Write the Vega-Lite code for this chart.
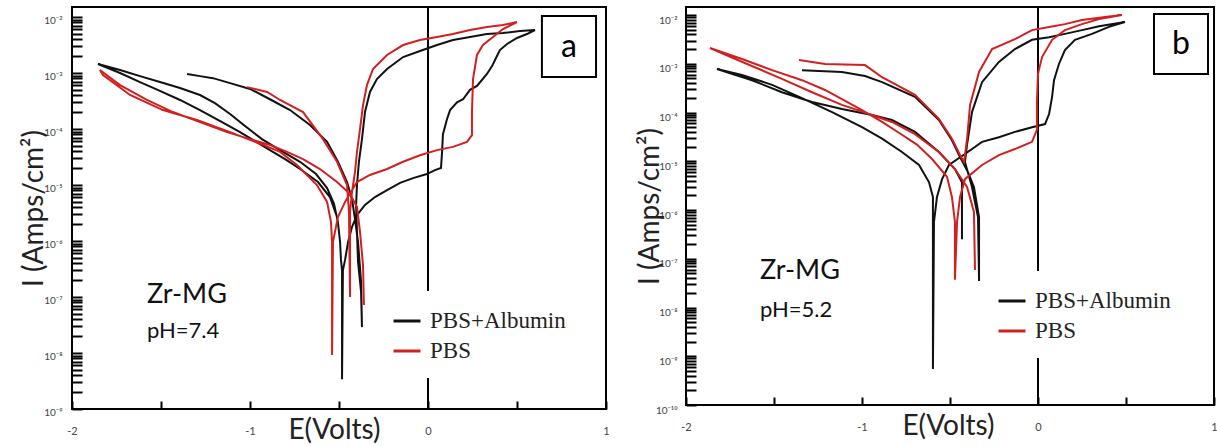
{
  "$schema": "https://vega.github.io/schema/vega-lite/v6.json",
  "background": "white",
  "padding": {"left": 19, "top": 5, "right": 0, "bottom": 0},
  "config": {
    "view": {"stroke": "black", "strokeWidth": 2},
    "font": "Lato",
    "axis": {
      "grid": false,
      "domain": false,
      "ticks": true,
      "tickColor": "black",
      "tickWidth": 2,
      "tickOpacity": 1,
      "zindex": 2,
      "labelFont": "Lato",
      "labelColor": "#444",
      "labelFlush": false,
      "titleFont": "Lato",
      "titleFontWeight": "normal",
      "titleColor": "#222",
      "titleFontSize": 28
    },
    "legend": {
      "labelFont": "Liberation Serif",
      "labelFontSize": 23,
      "labelColor": "#222",
      "symbolType": "stroke",
      "symbolSize": 729,
      "symbolStrokeWidth": 3,
      "labelOffset": 8,
      "rowPadding": 3,
      "padding": 15,
      "fillColor": "white"
    }
  },
  "datasets": {
    "a": [
      {"s":"PBS+Albumin","i":1,"E":-0.511,"I":2.68e-6},
      {"s":"PBS+Albumin","i":2,"E":-0.551,"I":6.1e-6},
      {"s":"PBS+Albumin","i":3,"E":-0.618,"I":1.13e-5},
      {"s":"PBS+Albumin","i":4,"E":-0.719,"I":1.93e-5},
      {"s":"PBS+Albumin","i":5,"E":-0.803,"I":2.9e-5},
      {"s":"PBS+Albumin","i":6,"E":-0.888,"I":4.2e-5},
      {"s":"PBS+Albumin","i":7,"E":-0.972,"I":6.1e-5},
      {"s":"PBS+Albumin","i":8,"E":-1.056,"I":8.8e-5},
      {"s":"PBS+Albumin","i":9,"E":-1.157,"I":1.33e-4},
      {"s":"PBS+Albumin","i":10,"E":-1.281,"I":2.18e-4},
      {"s":"PBS+Albumin","i":11,"E":-1.393,"I":3.3e-4},
      {"s":"PBS+Albumin","i":12,"E":-1.506,"I":4.8e-4},
      {"s":"PBS+Albumin","i":13,"E":-1.618,"I":6.9e-4},
      {"s":"PBS+Albumin","i":14,"E":-1.73,"I":1.0e-3},
      {"s":"PBS+Albumin","i":15,"E":-1.854,"I":1.45e-3},
      {"s":"PBS+Albumin","i":16,"E":-1.73,"I":1.13e-3},
      {"s":"PBS+Albumin","i":17,"E":-1.618,"I":8.8e-4},
      {"s":"PBS+Albumin","i":18,"E":-1.506,"I":6.9e-4},
      {"s":"PBS+Albumin","i":19,"E":-1.393,"I":5.4e-4},
      {"s":"PBS+Albumin","i":20,"E":-1.281,"I":4.05e-4},
      {"s":"PBS+Albumin","i":21,"E":-1.197,"I":2.9e-4},
      {"s":"PBS+Albumin","i":22,"E":-1.112,"I":1.85e-4},
      {"s":"PBS+Albumin","i":23,"E":-1.028,"I":1.13e-4},
      {"s":"PBS+Albumin","i":24,"E":-0.933,"I":6.6e-5},
      {"s":"PBS+Albumin","i":25,"E":-0.831,"I":4.2e-5},
      {"s":"PBS+Albumin","i":26,"E":-0.719,"I":2.6e-5},
      {"s":"PBS+Albumin","i":27,"E":-0.629,"I":1.57e-5},
      {"s":"PBS+Albumin","i":28,"E":-0.567,"I":8.8e-6},
      {"s":"PBS+Albumin","i":29,"E":-0.528,"I":4.6e-6},
      {"s":"PBS+Albumin","i":30,"E":-0.506,"I":2.18e-6},
      {"s":"PBS+Albumin","i":31,"E":-0.494,"I":9.6e-7},
      {"s":"PBS+Albumin","i":32,"E":-0.489,"I":4.6e-7},
      {"s":"PBS+Albumin","i":33,"E":-0.483,"I":3.0e-7},
      {"s":"PBS+Albumin","i":34,"E":-0.483,"I":3.4e-9},
      {"s":"PBS+Albumin","i":35,"E":-0.478,"I":3.0e-7},
      {"s":"PBS+Albumin","i":36,"E":-0.466,"I":4.6e-7},
      {"s":"PBS+Albumin","i":37,"E":-0.449,"I":9.6e-7},
      {"s":"PBS+Albumin","i":38,"E":-0.427,"I":1.78e-6},
      {"s":"PBS+Albumin","i":39,"E":-0.399,"I":2.9e-6},
      {"s":"PBS+Albumin","i":40,"E":-0.354,"I":4.4e-6},
      {"s":"PBS+Albumin","i":41,"E":-0.298,"I":6.1e-6},
      {"s":"PBS+Albumin","i":42,"E":-0.23,"I":8.1e-6},
      {"s":"PBS+Albumin","i":43,"E":-0.157,"I":1.09e-5},
      {"s":"PBS+Albumin","i":44,"E":-0.084,"I":1.33e-5},
      {"s":"PBS+Albumin","i":45,"E":-0.006,"I":1.57e-5},
      {"s":"PBS+Albumin","i":46,"E":0.039,"I":1.85e-5},
      {"s":"PBS+Albumin","i":47,"E":0.073,"I":2.01e-5},
      {"s":"PBS+Albumin","i":48,"E":0.079,"I":3.9e-5},
      {"s":"PBS+Albumin","i":49,"E":0.084,"I":8.1e-5},
      {"s":"PBS+Albumin","i":50,"E":0.107,"I":1.51e-4},
      {"s":"PBS+Albumin","i":51,"E":0.124,"I":2.18e-4},
      {"s":"PBS+Albumin","i":52,"E":0.163,"I":3.0e-4},
      {"s":"PBS+Albumin","i":53,"E":0.197,"I":3.4e-4},
      {"s":"PBS+Albumin","i":54,"E":0.236,"I":5.0e-4},
      {"s":"PBS+Albumin","i":55,"E":0.275,"I":5.9e-4},
      {"s":"PBS+Albumin","i":56,"E":0.303,"I":7.5e-4},
      {"s":"PBS+Albumin","i":57,"E":0.331,"I":9.6e-4},
      {"s":"PBS+Albumin","i":58,"E":0.36,"I":1.33e-3},
      {"s":"PBS+Albumin","i":59,"E":0.382,"I":1.85e-3},
      {"s":"PBS+Albumin","i":60,"E":0.404,"I":2.57e-3},
      {"s":"PBS+Albumin","i":61,"E":0.444,"I":3.3e-3},
      {"s":"PBS+Albumin","i":62,"E":0.5,"I":4.22e-3},
      {"s":"PBS+Albumin","i":63,"E":0.556,"I":4.97e-3},
      {"s":"PBS+Albumin","i":64,"E":0.601,"I":5.86e-3},
      {"s":"PBS+Albumin","i":65,"E":0.517,"I":5.62e-3},
      {"s":"PBS+Albumin","i":66,"E":0.421,"I":5.18e-3},
      {"s":"PBS+Albumin","i":67,"E":0.331,"I":4.97e-3},
      {"s":"PBS+Albumin","i":68,"E":0.236,"I":4.4e-3},
      {"s":"PBS+Albumin","i":69,"E":0.14,"I":3.88e-3},
      {"s":"PBS+Albumin","i":70,"E":0.051,"I":3.16e-3},
      {"s":"PBS+Albumin","i":71,"E":-0.045,"I":2.47e-3},
      {"s":"PBS+Albumin","i":72,"E":-0.14,"I":1.93e-3},
      {"s":"PBS+Albumin","i":73,"E":-0.23,"I":1.18e-3},
      {"s":"PBS+Albumin","i":74,"E":-0.287,"I":7.8e-4},
      {"s":"PBS+Albumin","i":75,"E":-0.326,"I":4.6e-4},
      {"s":"PBS+Albumin","i":76,"E":-0.354,"I":2.01e-4},
      {"s":"PBS+Albumin","i":77,"E":-0.371,"I":6.6e-5},
      {"s":"PBS+Albumin","i":78,"E":-0.388,"I":2.6e-5},
      {"s":"PBS+Albumin","i":79,"E":-0.399,"I":1.0e-5},
      {"s":"PBS+Albumin","i":80,"E":-0.404,"I":4.4e-6},
      {"s":"PBS+Albumin","i":81,"E":-0.399,"I":1.45e-6},
      {"s":"PBS+Albumin","i":82,"E":-0.393,"I":4.2e-7},
      {"s":"PBS+Albumin","i":83,"E":-0.376,"I":1.23e-7},
      {"s":"PBS+Albumin","i":84,"E":-0.371,"I":2.9e-8},
      {"s":"PBS+Albumin","i":85,"E":-0.376,"I":1.85e-7},
      {"s":"PBS+Albumin","i":86,"E":-0.393,"I":9.6e-7},
      {"s":"PBS+Albumin","i":87,"E":-0.41,"I":2.47e-6},
      {"s":"PBS+Albumin","i":88,"E":-0.427,"I":5.6e-6},
      {"s":"PBS+Albumin","i":89,"E":-0.455,"I":1.13e-5},
      {"s":"PBS+Albumin","i":90,"E":-0.506,"I":2.6e-5},
      {"s":"PBS+Albumin","i":91,"E":-0.567,"I":5.9e-5},
      {"s":"PBS+Albumin","i":92,"E":-0.663,"I":1.18e-4},
      {"s":"PBS+Albumin","i":93,"E":-0.775,"I":2.18e-4},
      {"s":"PBS+Albumin","i":94,"E":-0.888,"I":3.4e-4},
      {"s":"PBS+Albumin","i":95,"E":-1.0,"I":5.2e-4},
      {"s":"PBS+Albumin","i":96,"E":-1.112,"I":6.6e-4},
      {"s":"PBS+Albumin","i":97,"E":-1.208,"I":8.1e-4},
      {"s":"PBS+Albumin","i":98,"E":-1.281,"I":8.8e-4},
      {"s":"PBS+Albumin","i":99,"E":-1.354,"I":9.6e-4},
      {"s":"PBS","i":1,"E":-0.36,"I":7.2e-8},
      {"s":"PBS","i":2,"E":-0.365,"I":3.7e-7},
      {"s":"PBS","i":3,"E":-0.382,"I":1.45e-6},
      {"s":"PBS","i":4,"E":-0.399,"I":4.05e-6},
      {"s":"PBS","i":5,"E":-0.438,"I":6.9e-6},
      {"s":"PBS","i":6,"E":-0.511,"I":1.13e-5},
      {"s":"PBS","i":7,"E":-0.607,"I":1.93e-5},
      {"s":"PBS","i":8,"E":-0.702,"I":2.9e-5},
      {"s":"PBS","i":9,"E":-0.792,"I":3.9e-5},
      {"s":"PBS","i":10,"E":-0.888,"I":5.2e-5},
      {"s":"PBS","i":11,"E":-1.0,"I":6.6e-5},
      {"s":"PBS","i":12,"E":-1.129,"I":8.8e-5},
      {"s":"PBS","i":13,"E":-1.281,"I":1.33e-4},
      {"s":"PBS","i":14,"E":-1.433,"I":2.01e-4},
      {"s":"PBS","i":15,"E":-1.579,"I":3.3e-4},
      {"s":"PBS","i":16,"E":-1.73,"I":6.1e-4},
      {"s":"PBS","i":17,"E":-1.843,"I":1.13e-3},
      {"s":"PBS","i":18,"E":-1.826,"I":9.2e-4},
      {"s":"PBS","i":19,"E":-1.674,"I":4.05e-4},
      {"s":"PBS","i":20,"E":-1.489,"I":2.18e-4},
      {"s":"PBS","i":21,"E":-1.298,"I":1.45e-4},
      {"s":"PBS","i":22,"E":-1.112,"I":8.8e-5},
      {"s":"PBS","i":23,"E":-0.927,"I":5.2e-5},
      {"s":"PBS","i":24,"E":-0.831,"I":3.9e-5},
      {"s":"PBS","i":25,"E":-0.736,"I":2.28e-5},
      {"s":"PBS","i":26,"E":-0.624,"I":1.0e-5},
      {"s":"PBS","i":27,"E":-0.567,"I":5.0e-6},
      {"s":"PBS","i":28,"E":-0.545,"I":2.18e-6},
      {"s":"PBS","i":29,"E":-0.539,"I":9.6e-7},
      {"s":"PBS","i":30,"E":-0.539,"I":9.2e-9},
      {"s":"PBS","i":31,"E":-0.534,"I":9.6e-7},
      {"s":"PBS","i":32,"E":-0.506,"I":2.68e-6},
      {"s":"PBS","i":33,"E":-0.466,"I":5.0e-6},
      {"s":"PBS","i":34,"E":-0.427,"I":8.1e-6},
      {"s":"PBS","i":35,"E":-0.399,"I":1.13e-5},
      {"s":"PBS","i":36,"E":-0.326,"I":1.51e-5},
      {"s":"PBS","i":37,"E":-0.23,"I":1.93e-5},
      {"s":"PBS","i":38,"E":-0.14,"I":2.6e-5},
      {"s":"PBS","i":39,"E":-0.045,"I":3.4e-5},
      {"s":"PBS","i":40,"E":0.051,"I":4.2e-5},
      {"s":"PBS","i":41,"E":0.14,"I":4.8e-5},
      {"s":"PBS","i":42,"E":0.219,"I":5.9e-5},
      {"s":"PBS","i":43,"E":0.247,"I":7.8e-5},
      {"s":"PBS","i":44,"E":0.247,"I":2.01e-4},
      {"s":"PBS","i":45,"E":0.253,"I":7.8e-4},
      {"s":"PBS","i":46,"E":0.275,"I":2.1e-3},
      {"s":"PBS","i":47,"E":0.309,"I":3.16e-3},
      {"s":"PBS","i":48,"E":0.365,"I":4.4e-3},
      {"s":"PBS","i":49,"E":0.421,"I":6.1e-3},
      {"s":"PBS","i":50,"E":0.5,"I":8.14e-3},
      {"s":"PBS","i":51,"E":0.421,"I":7.2e-3},
      {"s":"PBS","i":52,"E":0.331,"I":6.63e-3},
      {"s":"PBS","i":53,"E":0.236,"I":5.86e-3},
      {"s":"PBS","i":54,"E":0.14,"I":4.97e-3},
      {"s":"PBS","i":55,"E":0.051,"I":4.4e-3},
      {"s":"PBS","i":56,"E":-0.045,"I":3.88e-3},
      {"s":"PBS","i":57,"E":-0.14,"I":3.16e-3},
      {"s":"PBS","i":58,"E":-0.23,"I":2.1e-3},
      {"s":"PBS","i":59,"E":-0.309,"I":1.18e-3},
      {"s":"PBS","i":60,"E":-0.343,"I":6.1e-4},
      {"s":"PBS","i":61,"E":-0.365,"I":2.68e-4},
      {"s":"PBS","i":62,"E":-0.382,"I":1.0e-4},
      {"s":"PBS","i":63,"E":-0.399,"I":3.9e-5},
      {"s":"PBS","i":64,"E":-0.41,"I":1.71e-5},
      {"s":"PBS","i":65,"E":-0.427,"I":7.5e-6},
      {"s":"PBS","i":66,"E":-0.438,"I":3.3e-6},
      {"s":"PBS","i":67,"E":-0.438,"I":1.0e-7},
      {"s":"PBS","i":68,"E":-0.444,"I":3.3e-6},
      {"s":"PBS","i":69,"E":-0.455,"I":1.0e-5},
      {"s":"PBS","i":70,"E":-0.511,"I":2.6e-5},
      {"s":"PBS","i":71,"E":-0.59,"I":6.6e-5},
      {"s":"PBS","i":72,"E":-0.702,"I":2.01e-4},
      {"s":"PBS","i":73,"E":-0.831,"I":3.3e-4},
      {"s":"PBS","i":74,"E":-0.904,"I":4.6e-4},
      {"s":"PBS","i":75,"E":-1.017,"I":5.6e-4}
    ],
    "b": [
      {"s":"PBS+Albumin","i":1,"E":-0.432,"I":2.5e-7},
      {"s":"PBS+Albumin","i":2,"E":-0.432,"I":3.7e-6},
      {"s":"PBS+Albumin","i":3,"E":-0.472,"I":6.9e-6},
      {"s":"PBS+Albumin","i":4,"E":-0.563,"I":1.55e-5},
      {"s":"PBS+Albumin","i":5,"E":-0.699,"I":4.0e-5},
      {"s":"PBS+Albumin","i":6,"E":-0.83,"I":7.0e-5},
      {"s":"PBS+Albumin","i":7,"E":-0.943,"I":8.9e-5},
      {"s":"PBS+Albumin","i":8,"E":-1.114,"I":1.18e-4},
      {"s":"PBS+Albumin","i":9,"E":-1.284,"I":1.64e-4},
      {"s":"PBS+Albumin","i":10,"E":-1.455,"I":2.6e-4},
      {"s":"PBS+Albumin","i":11,"E":-1.625,"I":4.6e-4},
      {"s":"PBS+Albumin","i":12,"E":-1.824,"I":7.8e-4},
      {"s":"PBS+Albumin","i":13,"E":-1.682,"I":5.9e-4},
      {"s":"PBS+Albumin","i":14,"E":-1.511,"I":3.7e-4},
      {"s":"PBS+Albumin","i":15,"E":-1.341,"I":1.98e-4},
      {"s":"PBS+Albumin","i":16,"E":-1.17,"I":1.02e-4},
      {"s":"PBS+Albumin","i":17,"E":-1.0,"I":5.0e-5},
      {"s":"PBS+Albumin","i":18,"E":-0.886,"I":2.9e-5},
      {"s":"PBS+Albumin","i":19,"E":-0.773,"I":1.55e-5},
      {"s":"PBS+Albumin","i":20,"E":-0.676,"I":8.4e-6},
      {"s":"PBS+Albumin","i":21,"E":-0.619,"I":3.7e-6},
      {"s":"PBS+Albumin","i":22,"E":-0.597,"I":1.85e-6},
      {"s":"PBS+Albumin","i":23,"E":-0.597,"I":5.7e-7},
      {"s":"PBS+Albumin","i":24,"E":-0.597,"I":5.5e-10},
      {"s":"PBS+Albumin","i":25,"E":-0.591,"I":5.7e-7},
      {"s":"PBS+Albumin","i":26,"E":-0.574,"I":1.85e-6},
      {"s":"PBS+Albumin","i":27,"E":-0.545,"I":4.3e-6},
      {"s":"PBS+Albumin","i":28,"E":-0.506,"I":8.4e-6},
      {"s":"PBS+Albumin","i":29,"E":-0.415,"I":1.41e-5},
      {"s":"PBS+Albumin","i":30,"E":-0.318,"I":2.5e-5},
      {"s":"PBS+Albumin","i":31,"E":-0.222,"I":3.1e-5},
      {"s":"PBS+Albumin","i":32,"E":-0.131,"I":4.0e-5},
      {"s":"PBS+Albumin","i":33,"E":-0.034,"I":5.0e-5},
      {"s":"PBS+Albumin","i":34,"E":0.04,"I":5.8e-5},
      {"s":"PBS+Albumin","i":35,"E":0.063,"I":9.3e-5},
      {"s":"PBS+Albumin","i":36,"E":0.08,"I":2.1e-4},
      {"s":"PBS+Albumin","i":37,"E":0.091,"I":4.6e-4},
      {"s":"PBS+Albumin","i":38,"E":0.119,"I":9.9e-4},
      {"s":"PBS+Albumin","i":39,"E":0.153,"I":1.9e-3},
      {"s":"PBS+Albumin","i":40,"E":0.21,"I":3.1e-3},
      {"s":"PBS+Albumin","i":41,"E":0.307,"I":4.1e-3},
      {"s":"PBS+Albumin","i":42,"E":0.403,"I":5.7e-3},
      {"s":"PBS+Albumin","i":43,"E":0.494,"I":7.2e-3},
      {"s":"PBS+Albumin","i":44,"E":0.347,"I":5.9e-3},
      {"s":"PBS+Albumin","i":45,"E":0.25,"I":4.9e-3},
      {"s":"PBS+Albumin","i":46,"E":0.153,"I":4.1e-3},
      {"s":"PBS+Albumin","i":47,"E":0.063,"I":3.5e-3},
      {"s":"PBS+Albumin","i":48,"E":-0.034,"I":3.1e-3},
      {"s":"PBS+Albumin","i":49,"E":-0.131,"I":2.0e-3},
      {"s":"PBS+Albumin","i":50,"E":-0.222,"I":1.09e-3},
      {"s":"PBS+Albumin","i":51,"E":-0.318,"I":4.2e-4},
      {"s":"PBS+Albumin","i":52,"E":-0.375,"I":1.02e-4},
      {"s":"PBS+Albumin","i":53,"E":-0.403,"I":2.2e-5},
      {"s":"PBS+Albumin","i":54,"E":-0.415,"I":9.7e-6},
      {"s":"PBS+Albumin","i":55,"E":-0.375,"I":2.96e-6},
      {"s":"PBS+Albumin","i":56,"E":-0.341,"I":7.2e-7},
      {"s":"PBS+Albumin","i":57,"E":-0.335,"I":3.5e-8},
      {"s":"PBS+Albumin","i":58,"E":-0.335,"I":7.2e-7},
      {"s":"PBS+Albumin","i":59,"E":-0.364,"I":2.96e-6},
      {"s":"PBS+Albumin","i":60,"E":-0.398,"I":6.0e-6},
      {"s":"PBS+Albumin","i":61,"E":-0.443,"I":1.22e-5},
      {"s":"PBS+Albumin","i":62,"E":-0.489,"I":2.7e-5},
      {"s":"PBS+Albumin","i":63,"E":-0.563,"I":7.0e-5},
      {"s":"PBS+Albumin","i":64,"E":-0.699,"I":2.1e-4},
      {"s":"PBS+Albumin","i":65,"E":-0.886,"I":4.2e-4},
      {"s":"PBS+Albumin","i":66,"E":-0.983,"I":5.6e-4},
      {"s":"PBS+Albumin","i":67,"E":-1.114,"I":6.8e-4},
      {"s":"PBS+Albumin","i":68,"E":-1.341,"I":7.4e-4},
      {"s":"PBS","i":1,"E":-0.358,"I":5.9e-8},
      {"s":"PBS","i":2,"E":-0.364,"I":9.1e-7},
      {"s":"PBS","i":3,"E":-0.403,"I":2.96e-6},
      {"s":"PBS","i":4,"E":-0.472,"I":6.9e-6},
      {"s":"PBS","i":5,"E":-0.563,"I":1.55e-5},
      {"s":"PBS","i":6,"E":-0.699,"I":3.6e-5},
      {"s":"PBS","i":7,"E":-0.83,"I":6.4e-5},
      {"s":"PBS","i":8,"E":-0.943,"I":8.9e-5},
      {"s":"PBS","i":9,"E":-1.114,"I":1.43e-4},
      {"s":"PBS","i":10,"E":-1.284,"I":2.6e-4},
      {"s":"PBS","i":11,"E":-1.455,"I":4.9e-4},
      {"s":"PBS","i":12,"E":-1.653,"I":9.9e-4},
      {"s":"PBS","i":13,"E":-1.864,"I":2.1e-3},
      {"s":"PBS","i":14,"E":-1.682,"I":1.25e-3},
      {"s":"PBS","i":15,"E":-1.511,"I":7.4e-4},
      {"s":"PBS","i":16,"E":-1.341,"I":4.6e-4},
      {"s":"PBS","i":17,"E":-1.21,"I":2.9e-4},
      {"s":"PBS","i":18,"E":-1.114,"I":1.89e-4},
      {"s":"PBS","i":19,"E":-1.0,"I":1.12e-4},
      {"s":"PBS","i":20,"E":-0.886,"I":6.4e-5},
      {"s":"PBS","i":21,"E":-0.773,"I":3.5e-5},
      {"s":"PBS","i":22,"E":-0.688,"I":2.2e-5},
      {"s":"PBS","i":23,"E":-0.602,"I":1.11e-5},
      {"s":"PBS","i":24,"E":-0.517,"I":4.8e-6},
      {"s":"PBS","i":25,"E":-0.489,"I":1.85e-6},
      {"s":"PBS","i":26,"E":-0.472,"I":5.7e-7},
      {"s":"PBS","i":27,"E":-0.472,"I":3.7e-8},
      {"s":"PBS","i":28,"E":-0.46,"I":5.7e-7},
      {"s":"PBS","i":29,"E":-0.443,"I":1.85e-6},
      {"s":"PBS","i":30,"E":-0.415,"I":4.3e-6},
      {"s":"PBS","i":31,"E":-0.318,"I":8.4e-6},
      {"s":"PBS","i":32,"E":-0.222,"I":1.34e-5},
      {"s":"PBS","i":33,"E":-0.131,"I":1.78e-5},
      {"s":"PBS","i":34,"E":-0.034,"I":2.5e-5},
      {"s":"PBS","i":35,"E":-0.006,"I":4.4e-5},
      {"s":"PBS","i":36,"E":-0.006,"I":1.64e-4},
      {"s":"PBS","i":37,"E":0.0,"I":6.2e-4},
      {"s":"PBS","i":38,"E":0.023,"I":1.37e-3},
      {"s":"PBS","i":39,"E":0.08,"I":3.1e-3},
      {"s":"PBS","i":40,"E":0.153,"I":4.9e-3},
      {"s":"PBS","i":41,"E":0.25,"I":6.5e-3},
      {"s":"PBS","i":42,"E":0.347,"I":8.3e-3},
      {"s":"PBS","i":43,"E":0.477,"I":1.0e-2},
      {"s":"PBS","i":44,"E":0.381,"I":9.1e-3},
      {"s":"PBS","i":45,"E":0.25,"I":7.9e-3},
      {"s":"PBS","i":46,"E":0.153,"I":6.5e-3},
      {"s":"PBS","i":47,"E":0.063,"I":5.7e-3},
      {"s":"PBS","i":48,"E":-0.034,"I":4.9e-3},
      {"s":"PBS","i":49,"E":-0.131,"I":3.2e-3},
      {"s":"PBS","i":50,"E":-0.261,"I":2.0e-3},
      {"s":"PBS","i":51,"E":-0.335,"I":6.8e-4},
      {"s":"PBS","i":52,"E":-0.386,"I":1.43e-4},
      {"s":"PBS","i":53,"E":-0.403,"I":2.9e-5},
      {"s":"PBS","i":54,"E":-0.42,"I":9.7e-6},
      {"s":"PBS","i":55,"E":-0.443,"I":1.34e-5},
      {"s":"PBS","i":56,"E":-0.489,"I":2.9e-5},
      {"s":"PBS","i":57,"E":-0.563,"I":7.4e-5},
      {"s":"PBS","i":58,"E":-0.699,"I":2.3e-4},
      {"s":"PBS","i":59,"E":-0.886,"I":5.3e-4},
      {"s":"PBS","i":60,"E":-0.983,"I":9.4e-4},
      {"s":"PBS","i":61,"E":-1.21,"I":9.9e-4},
      {"s":"PBS","i":62,"E":-1.358,"I":1.19e-3}
    ]
  },
  "resolve": {
    "scale": {"color": "independent", "x": "independent", "y": "independent"},
    "legend": {"color": "independent"}
  },
  "spacing": 24,
  "hconcat": [
    {
      "width": 534,
      "height": 402,
      "layer": [
        {
          "data": {"values": [{}]},
          "mark": {"type": "rule", "color": "black", "strokeWidth": 2},
          "encoding": {
            "x": {"datum": 0, "type": "quantitative"},
            "y": {"datum": 0.0151, "type": "quantitative"},
            "y2": {"datum": 1e-9}
          }
        },
        {
          "data": {"name": "a"},
          "mark": {"type": "line", "strokeWidth": 2},
          "encoding": {
            "x": {
              "field": "E", "type": "quantitative",
              "scale": {"domain": [-2, 1], "nice": false, "zero": false},
              "axis": {
                "title": "E(Volts)",
                "values": [-2, -1.5, -1, -0.5, 0, 0.5, 1],
                "labelExpr": "datum.value == round(datum.value) ? (datum.value < 0 ? '-' : '') + abs(datum.value) : ''",
                "offset": -8,
                "tickSize": 8,
                "labelPadding": 16,
                "labelFontSize": 11,
                "titleY": 29,
                "titleX": 262,
                "titleBaseline": "middle"
              }
            },
            "y": {
              "field": "I", "type": "quantitative",
              "scale": {"type": "log", "domain": [1e-9, 0.0151], "nice": false},
              "axis": {
                "title": "I (Amps/cm²)",
                "values": [1e-9,2e-9,3e-9,4e-9,5e-9,6e-9,7e-9,8e-9,9e-9,1e-8,2e-8,3e-8,4e-8,5e-8,6e-8,7e-8,8e-8,9e-8,1e-7,2e-7,3e-7,4e-7,5e-7,6e-7,7e-7,8e-7,9e-7,1e-6,2e-6,3e-6,4e-6,5e-6,6e-6,7e-6,8e-6,9e-6,1e-5,2e-5,3e-5,4e-5,5e-5,6e-5,7e-5,8e-5,9e-5,1e-4,2e-4,3e-4,4e-4,5e-4,6e-4,7e-4,8e-4,9e-4,1e-3,2e-3,3e-3,4e-3,5e-3,6e-3,7e-3,8e-3,9e-3,1e-2],
                "labelExpr": "abs(log(datum.value)/LN10-round(log(datum.value)/LN10))<0.01 ? '10' + ['⁻¹⁰','⁻⁹','⁻⁸','⁻⁷','⁻⁶','⁻⁵','⁻⁴','⁻³','⁻²'][round(log(datum.value)/LN10)+10] : ''",
                "offset": -10,
                "tickSize": 10,
                "labelFontSize": 10,
                "labelPadding": 10,
                "labelOffset": 3,
                "titlePadding": -5
              }
            },
            "color": {
              "field": "s", "type": "nominal",
              "scale": {"domain": ["PBS+Albumin", "PBS"], "range": ["#111111", "#d22020"]},
              "legend": {"orient": "none", "legendX": 305, "legendY": 284, "title": null}
            },
            "order": {"field": "i", "type": "quantitative"}
          }
        },
        {
          "data": {"values": [{}]},
          "mark": {"type": "rect", "fill": "white", "stroke": "black", "strokeWidth": 2},
          "encoding": {
            "x": {"datum": 0.64, "type": "quantitative"},
            "x2": {"datum": 0.944},
            "y": {"datum": 0.0104, "type": "quantitative"},
            "y2": {"datum": 8.5e-4}
          }
        },
        {
          "data": {"values": [{}]},
          "mark": {"type": "text", "text": "a", "font": "Lato", "fontSize": 32, "baseline": "middle", "align": "center", "color": "black"},
          "encoding": {
            "x": {"datum": 0.792, "type": "quantitative"},
            "y": {"datum": 2.9e-3, "type": "quantitative"}
          }
        },
        {
          "data": {"values": [{}]},
          "mark": {"type": "text", "text": "Zr-MG", "font": "Lato", "fontSize": 27, "baseline": "middle", "align": "left", "color": "#111"},
          "encoding": {
            "x": {"datum": -1.579, "type": "quantitative"},
            "y": {"datum": 1.09e-7, "type": "quantitative"}
          }
        },
        {
          "data": {"values": [{}]},
          "mark": {"type": "text", "text": "pH=7.4", "font": "Lato", "fontSize": 22, "baseline": "middle", "align": "left", "color": "#111"},
          "encoding": {
            "x": {"datum": -1.579, "type": "quantitative"},
            "y": {"datum": 2.47e-8, "type": "quantitative"}
          }
        }
      ]
    },
    {
      "width": 528,
      "height": 398,
      "layer": [
        {
          "data": {"values": [{}]},
          "mark": {"type": "rule", "color": "black", "strokeWidth": 2},
          "encoding": {
            "x": {"datum": 0, "type": "quantitative"},
            "y": {"datum": 0.0146, "type": "quantitative"},
            "y2": {"datum": 1e-10}
          }
        },
        {
          "data": {"name": "b"},
          "mark": {"type": "line", "strokeWidth": 2},
          "encoding": {
            "x": {
              "field": "E", "type": "quantitative",
              "scale": {"domain": [-2, 1], "nice": false, "zero": false},
              "axis": {
                "title": "E(Volts)",
                "values": [-2, -1.5, -1, -0.5, 0, 0.5, 1],
                "labelExpr": "datum.value == round(datum.value) ? (datum.value < 0 ? '-' : '') + abs(datum.value) : ''",
                "offset": -8,
                "tickSize": 8,
                "labelPadding": 16,
                "labelFontSize": 11,
                "titleY": 29,
                "titleX": 262,
                "titleBaseline": "middle"
              }
            },
            "y": {
              "field": "I", "type": "quantitative",
              "scale": {"type": "log", "domain": [1e-10, 0.0146], "nice": false},
              "axis": {
                "title": "I (Amps/cm²)",
                "values": [1e-10,2e-10,3e-10,4e-10,5e-10,6e-10,7e-10,8e-10,9e-10,1e-9,2e-9,3e-9,4e-9,5e-9,6e-9,7e-9,8e-9,9e-9,1e-8,2e-8,3e-8,4e-8,5e-8,6e-8,7e-8,8e-8,9e-8,1e-7,2e-7,3e-7,4e-7,5e-7,6e-7,7e-7,8e-7,9e-7,1e-6,2e-6,3e-6,4e-6,5e-6,6e-6,7e-6,8e-6,9e-6,1e-5,2e-5,3e-5,4e-5,5e-5,6e-5,7e-5,8e-5,9e-5,1e-4,2e-4,3e-4,4e-4,5e-4,6e-4,7e-4,8e-4,9e-4,1e-3,2e-3,3e-3,4e-3,5e-3,6e-3,7e-3,8e-3,9e-3,1e-2],
                "labelExpr": "abs(log(datum.value)/LN10-round(log(datum.value)/LN10))<0.01 ? '10' + ['⁻¹⁰','⁻⁹','⁻⁸','⁻⁷','⁻⁶','⁻⁵','⁻⁴','⁻³','⁻²'][round(log(datum.value)/LN10)+10] : ''",
                "offset": -10,
                "tickSize": 10,
                "labelFontSize": 10,
                "labelPadding": 9,
                "labelOffset": 5,
                "titlePadding": -9
              }
            },
            "color": {
              "field": "s", "type": "nominal",
              "scale": {"domain": ["PBS+Albumin", "PBS"], "range": ["#111111", "#d22020"]},
              "legend": {"orient": "none", "legendX": 296, "legendY": 264, "title": null}
            },
            "order": {"field": "i", "type": "quantitative"}
          }
        },
        {
          "data": {"values": [{}]},
          "mark": {"type": "rect", "fill": "white", "stroke": "black", "strokeWidth": 2},
          "encoding": {
            "x": {"datum": 0.659, "type": "quantitative"},
            "x2": {"datum": 0.966},
            "y": {"datum": 0.0105, "type": "quantitative"},
            "y2": {"datum": 6.2e-4}
          }
        },
        {
          "data": {"values": [{}]},
          "mark": {"type": "text", "text": "b", "font": "Lato", "fontSize": 32, "baseline": "middle", "align": "center", "color": "black"},
          "encoding": {
            "x": {"datum": 0.8125, "type": "quantitative"},
            "y": {"datum": 2.54e-3, "type": "quantitative"}
          }
        },
        {
          "data": {"values": [{}]},
          "mark": {"type": "text", "text": "Zr-MG", "font": "Lato", "fontSize": 27, "baseline": "middle", "align": "left", "color": "#111"},
          "encoding": {
            "x": {"datum": -1.58, "type": "quantitative"},
            "y": {"datum": 5.6e-8, "type": "quantitative"}
          }
        },
        {
          "data": {"values": [{}]},
          "mark": {"type": "text", "text": "pH=5.2", "font": "Lato", "fontSize": 22, "baseline": "middle", "align": "left", "color": "#111"},
          "encoding": {
            "x": {"datum": -1.58, "type": "quantitative"},
            "y": {"datum": 8.9e-9, "type": "quantitative"}
          }
        }
      ]
    }
  ]
}
